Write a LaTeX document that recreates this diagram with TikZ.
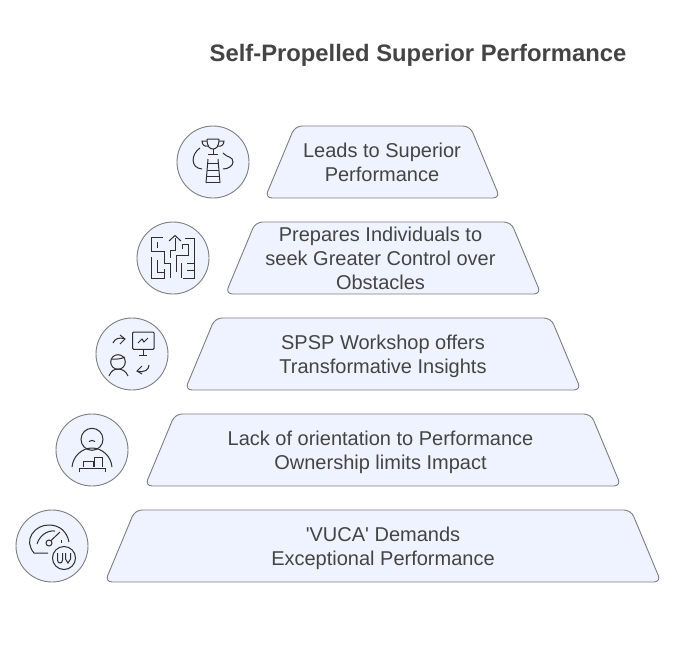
\documentclass[tikz,border=0pt]{standalone}
\usepackage{fontspec}
\setmainfont{Liberation Sans}
\newfontfamily\plainsans{Liberation Sans}
\usetikzlibrary{positioning}
\definecolor{panelblue}{RGB}{238, 243, 255}
\definecolor{edgegray}{RGB}{125, 125, 130}
\definecolor{inkgray}{RGB}{68, 68, 68}
\definecolor{icondark}{RGB}{45, 45, 50}

\begin{document}
\begin{tikzpicture}[
    x=1pt, y=-1pt,
    tierbox/.style={rounded corners=7pt, draw=edgegray, fill=panelblue, line width=0.9pt},
    tiertext/.style={text=inkgray, font=\plainsans\fontsize{20}{24}\selectfont, align=center, inner sep=0pt},
    iconring/.style={circle, draw=edgegray, fill=panelblue, line width=0.9pt, minimum size=72pt, inner sep=0pt},
    iconline/.style={draw=icondark, line width=1pt}
]
    \useasboundingbox (0,0) rectangle (691,648);

    \node[font=\bfseries\fontsize{23.8}{29}\selectfont, text=inkgray] (title) at (418,55.5) {Self-Propelled Superior Performance};

    \draw[tierbox] (265,198) -- (295,126) -- (470,126) -- (500,198) -- cycle;
    \draw[tierbox] (225.5,294) -- (255.5,222) -- (511,222) -- (541,294) -- cycle;
    \draw[tierbox] (185,390) -- (215,318) -- (551,318) -- (581,390) -- cycle;
    \draw[tierbox] (145,486) -- (175,414) -- (591,414) -- (621,486) -- cycle;
    \draw[tierbox] (105,582) -- (135,510) -- (631,510) -- (661,582) -- cycle;

    \node[tiertext] (t1) at (382,162) {Leads to Superior\\Performance};
    \node[tiertext] (t2) at (380.5,258) {Prepares Individuals to\\seek Greater Control over\\Obstacles};
    \node[tiertext] (t3) at (383,356) {SPSP Workshop offers\\Transformative Insights};
    \node[tiertext] (t4) at (380.5,452) {Lack of orientation to Performance\\Ownership limits Impact};
    \node[tiertext] (t5) at (383,548) {'VUCA' Demands\\Exceptional Performance};

    \node[iconring] (c1) at (213,162) {};
    \node[iconring] (c2) at (173,258) {};
    \node[iconring] (c3) at (132,354) {};
    \node[iconring] (c4) at (92,450) {};
    \node[iconring] (c5) at (52,546) {};

    % trophy and ladder
    \begin{scope}[shift={(c1.center)}, iconline]
        \draw (-6,-23) -- (6,-23) (-6,-23) .. controls (-6,-15) and (-3,-13) .. (0,-13) .. controls (3,-13) and (6,-15) .. (6,-23);
        \draw (-6,-21) -- (-11,-21) .. controls (-11,-17) and (-8,-15) .. (-5,-16);
        \draw (6,-21) -- (11,-21) .. controls (11,-17) and (8,-15) .. (5,-16);
        \draw (0,-13) -- (0,-8) (-5,-8) -- (5,-8);
        \draw (-5,-3) -- (-7,21) (5,-3) -- (7,21);
        \draw (-5.5,1) -- (5.5,1) (-6,8) -- (6,8) (-6.5,14) -- (6.5,14) (-7,20) -- (7,20);
        \draw (-13,-14) .. controls (-22,-8) and (-23,6) .. (-11,7);
        \draw (10,-9) .. controls (14,-4) and (20,-6) .. (20,0) .. controls (20,4) and (15,7) .. (10,7);
    \end{scope}

    % maze
    \begin{scope}[shift={(c2.center)}, iconline]
        \draw (-21.5,-6.5) -- (-21.5,-20.5) -- (-10.5,-20.5);
        \draw (-16,-16) -- (-16,-10.5);
        \draw (-21.5,-6.5) -- (-9,-6.5) -- (-9,5) -- (-3,5) -- (-3,20);
        \draw (-21.5,-1) -- (-21.5,20) -- (-9,20) -- (-9,11);
        \draw (-16,2) -- (-16,14) -- (-9,14);
        \draw (2,-20) -- (2,-8) -- (-3,-8) -- (-3,0);
        \draw (-4,-17) -- (2,-22.5) -- (8,-17);
        \draw (12,-20) -- (21,-20) -- (21,20) -- (10,20);
        \draw (9,-9) -- (9,-14) -- (15,-14) -- (15,-3) -- (3,-3) -- (3,14);
        \draw (8,5) -- (8,20) (14,5) -- (21,5) (14,12) -- (21,12);
    \end{scope}

    % person with chart and arrows
    \begin{scope}[shift={(c3.center)}, iconline]
        \draw[rounded corners=1pt] (0.7,-22) rectangle (22,-4.7);
        \draw (6,-11) -- (10,-15) -- (12,-12) -- (16,-16);
        \draw (11,-4.7) -- (11,1) (7,1) -- (15,1);
        \draw (-19,-11) .. controls (-17,-16) and (-12,-17) .. (-7,-15);
        \draw (-12,-19) -- (-7,-15) -- (-12,-10);
        \draw (-14,8) circle[radius=7.3];
        \draw (-20.5,5) .. controls (-16,5.5) and (-11,5) .. (-7,3);
        \draw (-23,22) .. controls (-21,17) and (-18,15) .. (-14,15) .. controls (-10,15) and (-6,17) .. (-4,22);
        \draw (17,11) .. controls (17,16) and (12,19) .. (5,17);
        \draw (10,12) -- (5,17) -- (10,20);
    \end{scope}

    % person with blocks
    \begin{scope}[shift={(c4.center)}, iconline]
        \draw (0,-10.7) circle[radius=11];
        \draw (-3,-8.5) .. controls (-1,-10) and (1,-10) .. (3,-8.5);
        \draw (-20,17) .. controls (-19,6) and (-10,-2) .. (0,-2) .. controls (10,-2) and (19,6) .. (20,17);
        \draw (-9,17) -- (-9,11) -- (1,11) -- (1,17);
        \draw (2,17) -- (2,7) -- (10,7) -- (10,17);
        \draw (-13,22) -- (-13,18) -- (13,18) -- (13,22);
    \end{scope}

    % gauge with badge
    \begin{scope}[shift={(c5.center)}, iconline]
        \draw (-4,7) -- (-18,7) .. controls (-23,1) and (-24,-6) .. (-20,-12) .. controls (-16,-18) and (-10,-21) .. (-3,-21) .. controls (8,-21) and (15,-14) .. (17,-4);
        \draw (-15,-2) .. controls (-13,-9) and (-6,-16) .. (3,-15);
        \draw (-3,-3) circle[radius=3];
        \draw (-1,-5.5) -- (8,-14);
        \draw (9,-6) -- (9,-3);
        \draw (12,12) circle[radius=11.5];
        \draw (5.5,7) -- (5.5,14) .. controls (5.5,18) and (10.5,18) .. (10.5,14) -- (10.5,7);
        \draw (13.5,7) -- (13.5,13) -- (16,17) -- (18.5,13) -- (18.5,7);
    \end{scope}
\end{tikzpicture}
\end{document}
